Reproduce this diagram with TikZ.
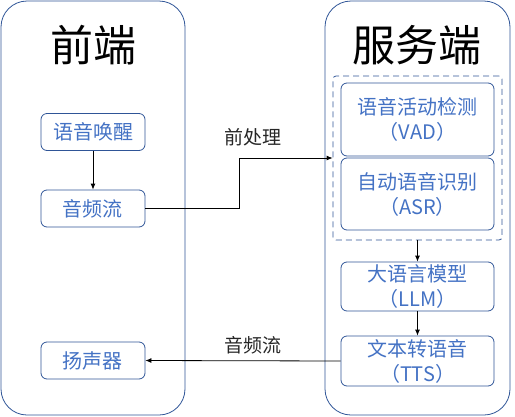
\documentclass[tikz,border=0pt]{standalone}
\usepackage{fontspec}
\setmainfont{Noto Sans CJK SC}
\newfontfamily\cjk{Noto Sans CJK SC}
\usetikzlibrary{arrows.meta}
\definecolor{frame}{HTML}{2F5597}
\definecolor{txtblue}{HTML}{4472C4}
\begin{document}
\begin{tikzpicture}[x=1pt,y=-1pt,
  bigbox/.style={draw=frame,line width=0.8pt,rounded corners=26pt},
  smallbox/.style={draw=frame,line width=0.8pt,rounded corners=6pt,
    text=txtblue,font=\cjk\fontsize{20}{25}\selectfont,align=center,inner sep=0pt},
  titletext/.style={font=\cjk\fontsize{43}{50}\selectfont,text=black},
  lbl/.style={font=\cjk\fontsize{19}{22}\selectfont,text=black!85},
  conn/.style={draw=black,line width=0.8pt},
  arr/.style={conn,-{Latex[length=6pt,width=5pt]}}]
\useasboundingbox (0,0) rectangle (515,416);
% big frames
\draw[bigbox] (1,1) rectangle (185,415);
\draw[bigbox] (325,1) rectangle (510,415);
\node[titletext] (tfront) at (93,45) {前端};
\node[titletext] (tserver) at (417,45) {服务端};
% left boxes
\node[smallbox,minimum width=104pt,minimum height=37pt] (wake) at (93,132) {语音唤醒};
\node[smallbox,minimum width=104pt,minimum height=37pt] (audio) at (93,208.5) {音频流};
\node[smallbox,minimum width=104pt,minimum height=37pt] (spk) at (93,360.5) {扬声器};
% dashed group
\node[draw=frame,dash pattern=on 6pt off 4pt,line width=0.8pt,rounded corners=3pt,minimum width=169pt,minimum height=164pt,inner sep=0pt] (grp) at (417.5,158) {};
% right boxes
\node[smallbox,minimum width=153pt,minimum height=73pt] (vad) at (417.5,119.5) {语音活动检测\\（VAD）};
\node[smallbox,minimum width=153pt,minimum height=72pt] (asr) at (417.5,194) {自动语音识别\\（ASR）};
\node[smallbox,minimum width=153pt,minimum height=49pt] (llm) at (417.5,286.5) {大语言模型\\（LLM）};
\node[smallbox,minimum width=153pt,minimum height=50pt] (tts) at (417.5,361) {文本转语音\\（TTS）};
% connectors
\draw[arr] (wake.south) -- (audio.north);
\coordinate (mid) at (239,158);
\draw[arr] (audio.east) -| (mid) -- (grp.west);
\node[lbl] (lpre) at (253,137) {前处理};
\draw[arr] (grp.south -| llm.north) -- (llm.north);
\draw[arr] (llm.south) -- (tts.north);
\draw[arr] (tts.west) -- (spk.east);
\node[lbl] (laud) at (253,345) {音频流};
\end{tikzpicture}
\end{document}
